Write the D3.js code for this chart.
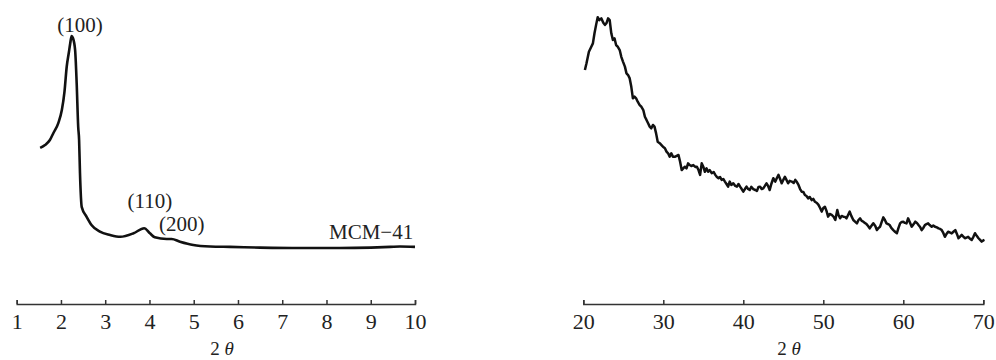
<!DOCTYPE html>
<html>
<head>
<meta charset="utf-8">
<script src="https://cdn.jsdelivr.net/npm/d3@7"></script>
<style>
  body { margin: 0; background: #fff; }
  svg text { font-family: "Liberation Serif", "Times New Roman", serif; fill: #222; }
</style>
</head>
<body>
<svg id="chart" width="996" height="360"></svg>
<script>
// small-angle XRD (MCM-41), 2theta vs intensity (a.u.)
var lowAngle = [1.53, 1.64, 1.75, 1.83, 1.94, 2.02, 2.08, 2.13, 2.18, 2.21, 2.24, 2.27, 2.32, 2.355, 2.39, 2.41, 2.43, 2.47,
  2.58, 2.69, 2.88, 3.11, 3.34, 3.64, 3.88, 4.01, 4.12, 4.39, 4.5, 4.69, 4.99, 5.37, 5.82, 6.5, 7.4, 8.3, 9.0, 9.44, 9.66, 10.0];
var lowIntensity = [46.4, 47.7, 50.0, 53.2, 57.7, 63.6, 72, 83.3, 90, 94, 97.3, 96.4, 90.9, 75.9, 55.9, 50.0, 35.0, 19.5,
  15.1, 11.4, 8.3, 6.8, 6.0, 7.6, 9.9, 7.6, 5.8, 5.0, 5.0, 3.8, 2.3, 1.6, 1.4, 1.1, 0.9, 0.9, 1.1, 1.4, 1.6, 1.4];

var lowTicks = [1, 2, 3, 4, 5, 6, 7, 8, 9, 10];
var peakLabels = ["(100)", "(110)", "(200)", "MCM\u221241"];
var peakLabelX = [2.43, 4.01, 4.73, 9.96];
var peakLabelY = [99, 19.1, 8.6, 4.9];

// wide-angle XRD, 2theta vs intensity (a.u.)
var wideAngle = [20.2, 20.4, 20.7, 21.0, 21.2, 21.4, 21.6, 21.8, 22.0, 22.25, 22.5, 22.7, 22.9, 23.1, 23.3, 23.5, 23.7, 23.9,
  24.1, 24.3, 24.55, 24.75, 24.96, 25.2, 25.4, 25.6, 25.8, 26.0, 26.2, 26.4, 26.6, 26.8, 27.05, 27.25, 27.5, 27.7, 27.9,
  28.1, 28.3, 28.5, 28.7, 28.9, 29.1, 29.3, 29.55, 29.75, 29.96, 30.2, 30.4, 30.6, 30.8, 31.0, 31.2, 31.5, 31.9, 32.1,
  32.3, 32.5, 32.7, 32.9, 33.1, 33.3, 33.5, 33.75, 34.0, 34.2, 34.4, 34.6, 34.8, 35.0, 35.2, 35.4, 35.6, 35.8, 36.05,
  36.3, 36.5, 36.7, 36.9, 37.1, 37.3, 37.5, 37.7, 37.9, 38.1, 38.3, 38.5, 38.75, 39.0, 39.2, 39.4, 39.6, 39.8, 40.0,
  40.2, 40.4, 40.6, 40.8, 41.0, 41.25, 41.5, 41.7, 41.9, 42.1, 42.3, 42.5, 42.7, 42.9, 43.1, 43.3, 43.5, 43.75, 44.0,
  44.2, 44.4, 44.6, 44.8, 45.0, 45.2, 45.4, 45.6, 45.8, 46.05, 46.3, 46.5, 46.7, 46.9, 47.1, 47.3, 47.5, 47.7, 47.9,
  48.1, 48.3, 48.55, 48.75, 48.96, 49.2, 49.4, 49.6, 49.8, 50.0, 50.2, 50.4, 50.6, 50.8, 51.05, 51.3, 51.5, 51.75,
  51.9, 52.1, 52.3, 52.5, 52.7, 52.9, 53.1, 53.3, 53.5, 53.75, 54.0, 54.2, 54.4, 54.6, 54.8, 55.0, 55.2, 55.4, 55.6,
  55.8, 56.0, 56.25, 56.5, 56.7, 56.9, 57.1, 57.3, 57.5, 57.7, 57.9, 58.1, 58.3, 58.5, 58.75, 59.0, 59.2, 59.4, 59.6,
  59.8, 60.0, 60.2, 60.4, 60.6, 60.8, 61.05, 61.3, 61.5, 61.7, 61.9, 62.1, 62.3, 62.5, 62.7, 62.9, 63.1, 63.3, 63.55,
  63.75, 63.96, 64.2, 64.4, 64.6, 64.8, 65.0, 65.2, 65.4, 65.6, 65.8, 66.05, 66.3, 66.5, 66.7, 66.9, 67.1, 67.3, 67.5,
  67.7, 67.9, 68.1, 68.3, 68.55, 68.75, 68.96, 69.2, 69.4, 69.6, 69.8, 70.0, 70.15];
var wideIntensity = [75.0, 77.8, 82.6, 84.7, 86.1, 90.3, 93.8, 97.0, 95.8, 96.5, 94.7, 93.8, 94.5, 96.5, 95.8, 90.3, 87.5, 88.2,
  85.4, 84.7, 83.3, 80.5, 78.5, 76.4, 73.6, 72.9, 71.5, 68.0, 63.2, 63.9, 63.2, 61.8, 60.4, 59.7, 58.3, 55.5, 54.2,
  52.8, 51.4, 50.7, 52.1, 51.4, 48.6, 45.1, 44.5, 43.8, 43.0, 42.4, 41.0, 40.3, 38.9, 40.3, 38.9, 38.9, 39.6, 36.8,
  33.3, 34.0, 34.7, 34.0, 36.1, 35.4, 35.0, 35.4, 34.6, 34.7, 33.3, 31.3, 36.1, 34.7, 32.6, 34.0, 32.6, 33.3, 32.0,
  32.5, 31.3, 30.4, 29.9, 30.4, 29.2, 29.6, 28.5, 27.5, 26.4, 28.5, 27.1, 27.8, 26.7, 26.4, 27.5, 26.4, 25.4, 24.3,
  25.4, 26.4, 25.4, 25.0, 26.3, 25.4, 25.0, 24.6, 26.3, 26.4, 25.4, 25.7, 26.7, 27.8, 26.7, 25.0, 27.5, 29.9, 28.5,
  30.0, 31.3, 29.6, 27.8, 29.2, 30.5, 29.2, 27.8, 28.8, 28.5, 27.9, 29.2, 28.3, 27.1, 25.4, 24.3, 24.2, 22.9, 22.5,
  21.5, 22.1, 20.8, 21.3, 20.1, 19.6, 18.8, 17.5, 16.0, 17.5, 18.0, 16.3, 13.9, 15.0, 14.6, 13.8, 12.5, 16.7,
  14.6, 13.2, 14.2, 13.9, 13.8, 13.2, 14.6, 16.0, 14.2, 12.5, 11.7, 11.1, 12.5, 13.2, 12.1, 11.8, 11.3, 10.8, 10.0,
  9.0, 10.0, 11.1, 10.0, 8.3, 9.2, 9.7, 11.7, 13.6, 12.5, 11.1, 10.8, 10.4, 9.2, 8.3, 7.5, 7.0, 9.2, 11.1,
  11.7, 11.8, 11.3, 11.1, 13.2, 11.7, 9.7, 10.8, 11.8, 11.3, 10.4, 9.6, 8.3, 9.2, 10.4, 10.8, 11.1, 10.4, 9.7,
  10.2, 9.7, 9.4, 9.0, 8.8, 8.3, 7.1, 5.5, 6.7, 7.6, 7.3, 6.9, 7.7, 8.3, 6.7, 4.9, 5.6, 6.3, 5.6,
  4.9, 5.2, 5.5, 4.8, 4.2, 5.4, 7.0, 5.8, 4.9, 4.2, 3.5, 4.0, 4.2];

var wideTicks = [20, 30, 40, 50, 60, 70];

var svg = d3.select("#chart");
var axisY = 304;

// ---- left panel
var x1 = d3.scaleLinear().domain([1, 10]).range([16.7, 415]);
var y1 = d3.scaleLinear().domain([0, 100]).range([250, 30]);

var line1 = d3.line()
  .x(function(d, i) { return x1(lowAngle[i]); })
  .y(function(d) { return y1(d); })
  .curve(d3.curveMonotoneX);

svg.append("path")
  .datum(lowIntensity)
  .attr("d", line1)
  .attr("fill", "none")
  .attr("stroke", "#111")
  .attr("stroke-width", 2.6)
  .attr("stroke-linejoin", "round");

svg.selectAll("text.peak")
  .data(peakLabels)
  .enter().append("text")
  .attr("class", "peak")
  .attr("x", function(d, i) { return x1(peakLabelX[i]); })
  .attr("y", function(d, i) { return y1(peakLabelY[i]); })
  .attr("text-anchor", function(d, i) { return i == 3 ? "end" : "middle"; })
  .style("font-size", "21px")
  .text(function(d) { return d; });

// ---- right panel
var x2 = d3.scaleLinear().domain([20, 70]).range([583.3, 983.3]);
var y2 = d3.scaleLinear().domain([0, 100]).range([250, 10]);

var line2 = d3.line()
  .x(function(d, i) { return x2(wideAngle[i]); })
  .y(function(d) { return y2(d); });

svg.append("path")
  .datum(wideIntensity)
  .attr("d", line2)
  .attr("fill", "none")
  .attr("stroke", "#111")
  .attr("stroke-width", 2.5)
  .attr("stroke-linejoin", "round");

// ---- axes (ticks pointing up, labels below)
function drawAxis(scale, ticks, labelX) {
  var ax = d3.axisBottom(scale)
    .tickValues(ticks)
    .tickFormat(d3.format("d"))
    .tickSizeInner(-4)
    .tickSizeOuter(-4)
    .tickPadding(9);

  var g = svg.append("g")
    .attr("transform", "translate(0," + axisY + ")")
    .call(ax);

  g.select(".domain").attr("stroke", "#333").attr("stroke-width", 1.5);
  g.selectAll(".tick line").attr("stroke", "#333").attr("stroke-width", 1.5);
  g.selectAll(".tick text")
    .style("font-family", '"Liberation Serif", "Times New Roman", serif')
    .style("font-size", "22px")
    .attr("fill", "#222");

  var t = svg.append("text")
    .attr("x", labelX)
    .attr("y", 355)
    .attr("text-anchor", "middle")
    .style("font-size", "19px");
  t.append("tspan").text("2 ");
  t.append("tspan").style("font-style", "italic").text("\u03b8");
}

drawAxis(x1, lowTicks, 222);
drawAxis(x2, wideTicks, 789);
</script>
</body>
</html>
